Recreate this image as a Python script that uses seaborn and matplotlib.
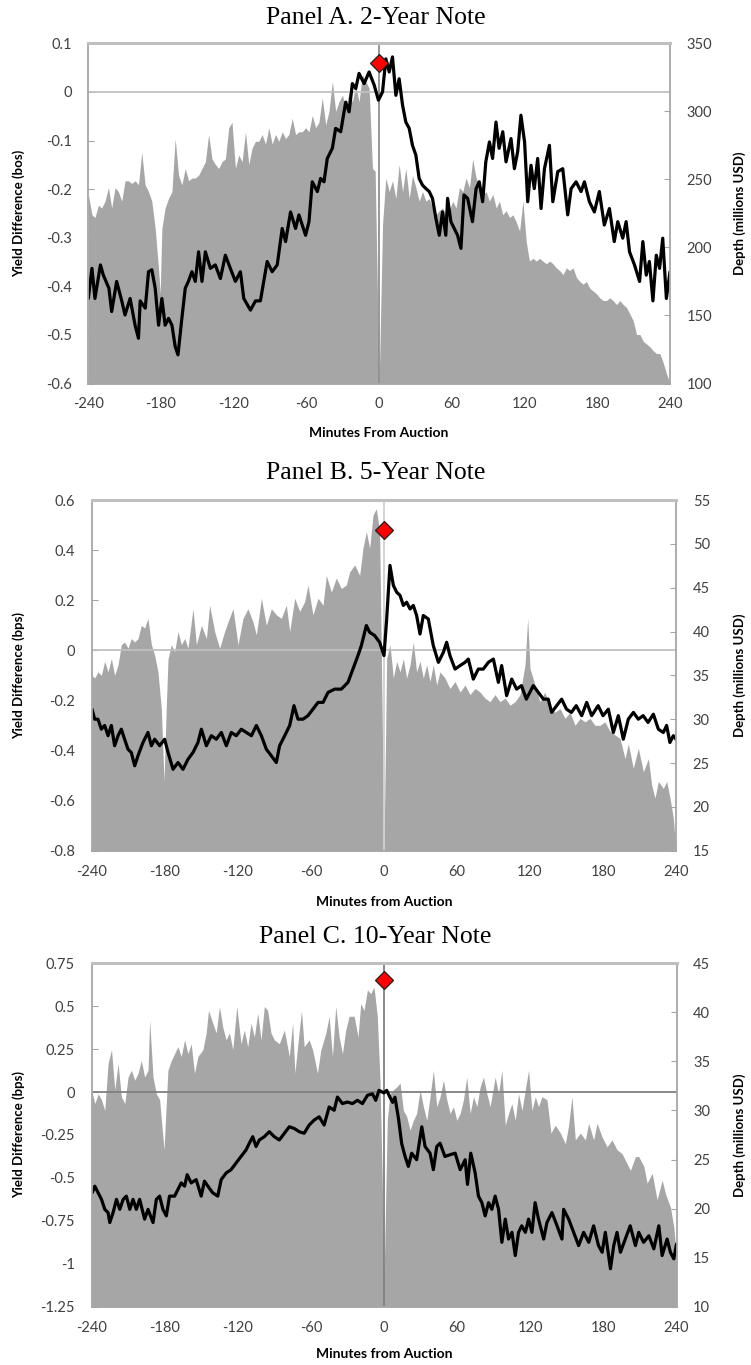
import matplotlib
matplotlib.use("Agg")
import matplotlib.pyplot as plt
import pandas as pd
import seaborn as sns

# ---------------- data ----------------
# Panel A: 2-Year Note  (minute, yield difference in bps)
yield_2y = [(-240,-0.425),(-237,-0.363),(-234.5,-0.425),(-230,-0.356),(-227.6,-0.377),(-223,-0.404),(-220.7,-0.452),(-216.6,-0.39),(-212.4,-0.43),(-209.7,-0.459),(-205.5,-0.425),(-201.4,-0.48),(-198.6,-0.507),(-197.2,-0.43),(-193,-0.445),(-190.3,-0.37),(-187.6,-0.366),(-184.8,-0.404),(-182,-0.48),(-179.3,-0.425),(-176.6,-0.48),(-173.8,-0.466),(-171,-0.48),(-168.3,-0.524),(-166,-0.541),(-162.8,-0.466),(-160,-0.404),(-157.4,-0.39),(-154.5,-0.37),(-151.7,-0.39),(-149,-0.329),(-146.2,-0.39),(-143.4,-0.329),(-139.3,-0.363),(-135.2,-0.356),(-131,-0.384),(-126.9,-0.336),(-122.8,-0.363),(-118.6,-0.39),(-114.5,-0.37),(-111.7,-0.425),(-106.2,-0.449),(-102,-0.43),(-98,-0.43),(-95.2,-0.39),(-92.4,-0.349),(-88.3,-0.37),(-84.1,-0.356),(-80,-0.281),(-77.2,-0.308),(-73.1,-0.247),(-69,-0.281),(-66.2,-0.253),(-60.7,-0.295),(-57.9,-0.267),(-55.2,-0.185),(-51,-0.205),(-48.3,-0.178),(-45.5,-0.185),(-42.8,-0.137),(-38.6,-0.116),(-35.9,-0.075),(-31.7,-0.082),(-27.6,-0.021),(-24.8,-0.041),(-22.1,0.017),(-19.3,0.007),(-16.6,0.038),(-12.4,0.017),(-8.3,0.041),(-4.1,0.014),(-0.6,-0.017),(2.8,0.0),(5.5,0.068),(8.3,0.041),(11,0.072),(13.8,-0.007),(16.5,0.027),(19.3,-0.027),(22,-0.062),(24.8,-0.075),(27.5,-0.11),(30.3,-0.13),(33,-0.178),(35.8,-0.192),(38.6,-0.199),(41.3,-0.205),(44,-0.219),(46.8,-0.26),(49.6,-0.295),(52.3,-0.247),(55,-0.295),(56.5,-0.219),(59.2,-0.267),(62,-0.281),(64.7,-0.295),(67.5,-0.322),(70,-0.212),(73,-0.219),(77,-0.267),(80,-0.199),(82.6,-0.185),(85.4,-0.226),(88,-0.144),(91,-0.103),(93.6,-0.137),(96.4,-0.062),(99,-0.116),(102,-0.082),(104.7,-0.144),(108.8,-0.096),(111.6,-0.158),(114.3,-0.123),(117,-0.048),(120,-0.103),(122.6,-0.226),(125.3,-0.151),(128,-0.199),(130.8,-0.137),(133.6,-0.24),(136.4,-0.158),(140.5,-0.11),(143.3,-0.226),(147.4,-0.164),(151.5,-0.158),(155.6,-0.253),(158.4,-0.199),(162.5,-0.185),(166.6,-0.205),(169.4,-0.185),(173.5,-0.226),(177.6,-0.247),(181.7,-0.205),(185.8,-0.274),(190,-0.24),(194,-0.308),(196.9,-0.267),(201,-0.301),(203.8,-0.267),(206.6,-0.329),(210.7,-0.356),(214.9,-0.39),(217.6,-0.308),(220.4,-0.377),(223,-0.349),(225.9,-0.43),(228.7,-0.336),(231.4,-0.363),(234,-0.301),(237,-0.425),(240,-0.37)]

# Panel A depth (minute, millions USD)
depth_2y = [(-240,239),(-237,224),(-234.5,222),(-231.7,231),(-229,229),(-226.2,234),(-223.4,244),(-220.7,229),(-217.9,244),(-215.2,241),(-212.4,234),(-209.7,249),(-206.9,249),(-204.1,247),(-201.4,249),(-198.6,246),(-195.9,270),(-193.1,246),(-190.3,241),(-187.6,234),(-184.8,214),(-182.1,185),(-180.7,166),(-179.3,214),(-176.6,229),(-173.8,236),(-171,241),(-168.3,280),(-165.5,253),(-162.8,246),(-160,258),(-157.2,249),(-154.5,251),(-151.7,251),(-149,253),(-146.2,258),(-143.4,263),(-140.7,283),(-137.9,265),(-135.2,261),(-132.4,258),(-129.7,263),(-126.9,265),(-124.1,288),(-121.4,292),(-118.6,258),(-115.9,268),(-113.1,263),(-110.3,285),(-107.6,261),(-104.8,273),(-102.1,278),(-99.3,278),(-96.6,283),(-93.8,276),(-91,288),(-88.3,276),(-85.5,283),(-82.8,278),(-80,285),(-77.2,280),(-74.5,283),(-71.7,295),(-69,283),(-66.2,285),(-63.4,285),(-60.7,288),(-57.9,285),(-55.2,297),(-52.4,288),(-49.7,292),(-46.9,310),(-44.1,290),(-41.4,300),(-38.6,322),(-35.9,300),(-33.1,307),(-30.3,312),(-27.6,302),(-24.8,314),(-22.1,307),(-19.3,319),(-16.6,307),(-13.8,327),(-11,322),(-8.3,317),(-5.5,258),(-3.3,256),(0,100),(2.8,217),(5.5,251),(8.3,241),(11,249),(13.8,236),(16.5,261),(19.3,241),(22,258),(24.8,236),(27.5,253),(30.3,244),(33,234),(35.8,241),(38.6,234),(41.3,236),(44,229),(46.8,224),(49.6,227),(52.3,229),(55,224),(57.9,227),(60.7,234),(63.4,229),(66.2,244),(69,241),(71.7,251),(74.5,244),(77.2,265),(80,251),(82.8,246),(85.5,239),(88.3,241),(91,234),(93.8,239),(96.6,229),(99.3,234),(102,224),(104.8,227),(107.6,222),(110.3,224),(113,219),(115.9,212),(118.6,234),(121.4,204),(124,190),(126.9,192),(129.7,190),(132.4,192),(135,190),(138,188),(140.7,190),(143.4,188),(146.2,185),(149,183),(151.7,180),(154.5,185),(157.2,183),(160,185),(162.8,178),(165.5,175),(168.3,173),(171,175),(173.8,170),(176.5,168),(179.3,166),(182,163),(184.8,161),(187.6,161),(190.3,163),(193,161),(195.9,158),(198.6,161),(201.4,158),(204,156),(207,151),(209.7,146),(212.4,136),(215.2,136),(218,131),(220.7,129),(223.4,127),(226.2,124),(229,122),(231.7,122),(234.5,115),(237.2,107),(240,100)]

# Panel B: 5-Year Note
yield_5y = [(-240,-0.235),(-237.8,-0.275),(-235.1,-0.275),(-232.3,-0.315),(-229.6,-0.30),(-226.8,-0.341),(-224.1,-0.30),(-221.4,-0.381),(-218.6,-0.341),(-215.9,-0.315),(-213.2,-0.355),(-210.4,-0.395),(-207.7,-0.408),(-204.9,-0.461),(-202.2,-0.421),(-198.1,-0.368),(-194,-0.328),(-191.2,-0.381),(-188.5,-0.355),(-184.4,-0.381),(-180.3,-0.355),(-177.5,-0.408),(-173.4,-0.475),(-169.3,-0.448),(-165.2,-0.475),(-161.1,-0.435),(-157,-0.408),(-152.9,-0.368),(-150.1,-0.315),(-146,-0.381),(-141.9,-0.341),(-137.8,-0.355),(-133.7,-0.328),(-129.6,-0.381),(-125.5,-0.328),(-121.4,-0.341),(-117.3,-0.315),(-113.2,-0.328),(-109,-0.341),(-104.9,-0.30),(-100.8,-0.341),(-96.7,-0.395),(-92.6,-0.421),(-88.5,-0.448),(-85.8,-0.381),(-81.6,-0.341),(-77.5,-0.30),(-74,-0.221),(-70.7,-0.275),(-66.6,-0.275),(-62.5,-0.261),(-58.4,-0.235),(-54.2,-0.208),(-50.1,-0.208),(-46,-0.168),(-40.5,-0.155),(-35.1,-0.155),(-29.6,-0.128),(-25.5,-0.075),(-21.4,-0.021),(-18.6,0.019),(-14.5,0.099),(-11.8,0.072),(-7.7,0.059),(-3.6,0.032),(0,-0.021),(2.2,0.125),(4.9,0.339),(7.7,0.259),(10.4,0.232),(13.2,0.219),(15.9,0.179),(18.6,0.192),(21.4,0.165),(24.1,0.179),(26.8,0.139),(29.6,0.065),(32.3,0.139),(36.4,0.125),(40.5,0.019),(44.7,-0.048),(48.8,-0.008),(51.5,0.032),(54.2,-0.021),(58.4,-0.075),(62.5,-0.061),(66.6,-0.048),(69.3,-0.035),(73.4,-0.115),(77.5,-0.075),(81.6,-0.075),(85.8,-0.048),(89.9,-0.035),(94,-0.128),(96.7,-0.061),(100.8,-0.181),(105,-0.115),(109,-0.155),(113,-0.141),(117,-0.195),(122.7,-0.141),(126.8,-0.168),(131,-0.195),(135,-0.195),(137.8,-0.248),(141.9,-0.221),(146,-0.195),(150,-0.235),(154,-0.248),(158,-0.221),(162.5,-0.261),(166.6,-0.208),(170.7,-0.261),(176,-0.221),(180,-0.261),(184.4,-0.235),(188.5,-0.328),(192.6,-0.261),(196.7,-0.355),(200.8,-0.275),(205,-0.248),(209,-0.275),(213,-0.261),(217,-0.288),(221.4,-0.255),(225.5,-0.315),(229.6,-0.328),(232.3,-0.30),(235,-0.368),(237.8,-0.341),(240,-0.355)]

depth_5y = [(-240,35.0),(-237.8,34.7),(-235.1,35.4),(-232.3,35.0),(-229.6,36.6),(-226.8,35.4),(-224.1,36.9),(-221.4,35.0),(-218.6,36.2),(-215.9,38.5),(-213.2,38.8),(-210.4,38.1),(-207.7,39.2),(-204.9,38.8),(-202.2,39.2),(-199.5,40.7),(-196.7,40.4),(-194,41.5),(-191.2,38.5),(-188.5,37.3),(-185.8,35.4),(-183,31.2),(-180.8,22.9),(-178.9,31.6),(-177.5,36.9),(-174.8,38.5),(-172.1,37.7),(-169.3,40.0),(-166.6,38.5),(-163.8,39.2),(-161.1,38.1),(-157,42.6),(-154.2,38.5),(-150.1,40.7),(-146,39.2),(-143.3,43.0),(-139.2,40.0),(-135.1,38.1),(-131,40.0),(-128.2,41.1),(-124.1,42.6),(-120,38.5),(-115.9,41.5),(-111.8,42.6),(-107.7,41.1),(-104.9,39.6),(-100.8,43.8),(-96.7,40.7),(-92.6,42.6),(-88.5,41.9),(-84.4,41.5),(-80.3,43.0),(-77.5,40.0),(-73.4,43.8),(-69.3,42.3),(-65.2,43.4),(-62.5,45.3),(-58.4,41.9),(-54.2,43.8),(-50.1,43.0),(-47.4,46.4),(-43.3,44.5),(-39.2,46.1),(-35.1,44.9),(-31,45.3),(-28.2,46.8),(-24.1,47.6),(-20,46.4),(-17.3,49.5),(-14.5,51.4),(-11.8,49.5),(-9,53.3),(-6.3,54.0),(-3.6,51.4),(-1.6,31.6),(0,15.1),(2.2,36.9),(4.9,38.5),(7.7,34.7),(10.4,36.6),(13.2,35.4),(15.9,36.9),(18.6,34.7),(21.4,36.2),(24.1,38.8),(26.8,35.4),(29.6,36.6),(32.3,34.7),(35.1,36.2),(37.8,34.3),(40.5,36.2),(43.3,33.9),(46,35.4),(50.1,34.7),(54.2,33.5),(58.4,34.3),(62.5,33.1),(66.6,33.9),(70.7,32.8),(74.8,33.5),(78.9,33.1),(83,32.4),(87.1,32.0),(91.2,32.8),(95.3,32.0),(99.5,32.4),(103.6,31.6),(107.7,32.0),(111.8,32.8),(115.9,36.2),(118.1,41.5),(120,35.8),(124.1,33.9),(128.2,32.0),(132.3,33.1),(136.4,31.2),(140.5,30.8),(144.7,31.2),(148.8,30.1),(152.9,30.8),(157,29.3),(161.1,30.1),(165.2,29.7),(169.3,30.1),(173.4,29.3),(177.5,29.3),(181.6,29.7),(185.8,28.6),(189.9,28.2),(194,27.8),(198.1,25.5),(200.8,27.2),(204.9,24.4),(209,26.7),(213.2,24.0),(217.3,25.5),(220,22.5),(222.7,21.0),(225.5,22.9),(229.6,22.1),(232.3,22.9),(235.1,21.0),(237.8,18.7),(240,15.1)]

# Panel C: 10-Year Note
yield_10y = [(-239.5,-0.587),(-237.3,-0.548),(-234.5,-0.587),(-231.8,-0.625),(-229.1,-0.683),(-226.4,-0.702),(-225,-0.76),(-222.3,-0.702),(-219.5,-0.625),(-216.8,-0.683),(-214,-0.625),(-211.4,-0.606),(-208.6,-0.683),(-205.9,-0.625),(-203.2,-0.683),(-200.5,-0.625),(-196.4,-0.74),(-193.6,-0.683),(-189.5,-0.76),(-186.8,-0.625),(-184.1,-0.606),(-181.4,-0.683),(-178.6,-0.721),(-176,-0.606),(-171.8,-0.606),(-169.1,-0.567),(-166.4,-0.529),(-163.6,-0.548),(-161.5,-0.481),(-158.2,-0.529),(-154.1,-0.51),(-150,-0.606),(-147.3,-0.519),(-144.5,-0.548),(-140.5,-0.587),(-136.4,-0.606),(-133.6,-0.51),(-129.5,-0.471),(-125.5,-0.452),(-121.4,-0.413),(-117.3,-0.375),(-113.2,-0.337),(-110.5,-0.298),(-107.7,-0.26),(-105,-0.317),(-102.3,-0.279),(-98.2,-0.26),(-94.1,-0.231),(-90,-0.26),(-85.9,-0.279),(-81.8,-0.24),(-77.7,-0.202),(-73.6,-0.212),(-69.5,-0.231),(-65.5,-0.24),(-61.4,-0.192),(-57.3,-0.163),(-53.2,-0.144),(-49.1,-0.192),(-45,-0.087),(-40.9,-0.106),(-38.2,-0.029),(-34.1,-0.067),(-30,-0.058),(-25.9,-0.067),(-21.8,-0.048),(-17.7,-0.067),(-13.6,-0.019),(-9.5,-0.01),(-6.8,-0.048),(-4.1,0.01),(0,-0.005),(2.2,0.01),(4.9,-0.03),(7.1,-0.06),(9,-0.03),(11.8,-0.15),(14.5,-0.30),(17.3,-0.375),(20,-0.433),(22.7,-0.356),(26.8,-0.394),(31,-0.202),(33.7,-0.317),(37.8,-0.356),(40.5,-0.452),(43.3,-0.317),(46,-0.298),(50,-0.375),(54.2,-0.365),(58.4,-0.356),(62.5,-0.452),(66.6,-0.394),(68.5,-0.538),(71.2,-0.356),(74.8,-0.471),(77.5,-0.606),(80.3,-0.644),(83,-0.721),(85.8,-0.644),(88.5,-0.683),(91.2,-0.606),(94,-0.683),(96.7,-0.875),(99.5,-0.74),(102.2,-0.856),(105,-0.817),(107.7,-0.952),(110.4,-0.817),(113,-0.779),(116,-0.817),(118.6,-0.74),(121.4,-0.817),(124,-0.644),(126.8,-0.74),(131,-0.856),(133.7,-0.76),(137.8,-0.702),(142,-0.779),(146,-0.856),(147.4,-0.683),(151.5,-0.74),(155.6,-0.817),(159.7,-0.894),(163.8,-0.817),(168,-0.875),(172,-0.779),(176,-0.894),(179,-0.933),(181.6,-0.817),(185.8,-1.029),(188.5,-0.894),(191.2,-0.817),(194,-0.933),(198,-0.856),(202,-0.779),(206.3,-0.894),(209,-0.817),(213,-0.875),(217.3,-0.837),(221.4,-0.913),(225.5,-0.779),(228.2,-0.952),(232.3,-0.856),(235,-0.933),(237.8,-0.971),(240,-0.885)]

depth_10y = [(-240,32.1),(-237.3,30.7),(-234.5,31.7),(-231.8,31.1),(-229.1,30.0),(-226.4,34.8),(-223.6,36.2),(-220.9,32.1),(-218.2,34.8),(-215.5,31.4),(-212.7,30.7),(-210,33.4),(-207.3,34.1),(-204.5,33.1),(-201.8,33.8),(-199.1,35.1),(-196.4,33.4),(-193.6,34.1),(-192.3,39.2),(-189.5,33.4),(-186.8,31.7),(-184.1,31.1),(-180.5,26.0),(-177.3,34.1),(-174.5,35.1),(-171.8,35.8),(-169.1,36.5),(-166.4,35.5),(-163.6,37.2),(-160.9,35.8),(-158.2,36.8),(-155.5,33.8),(-152.7,35.5),(-148.6,36.2),(-145.9,37.9),(-144,40.2),(-140.5,38.9),(-137.7,37.9),(-135,40.6),(-132.3,38.5),(-129.6,37.2),(-126.8,37.9),(-124.1,36.2),(-120.8,40.6),(-117.3,36.8),(-114.6,38.2),(-111.8,36.5),(-109.1,38.9),(-106.4,37.5),(-103.6,39.9),(-100.9,37.2),(-98.2,40.6),(-95.5,40.2),(-92.7,37.9),(-90,37.2),(-85.9,36.8),(-81.8,38.2),(-77.7,35.5),(-75,38.9),(-73.1,33.8),(-70.9,36.5),(-67.7,40.2),(-65.5,36.5),(-61.4,37.2),(-58.6,36.2),(-54.6,33.8),(-51.8,36.2),(-47.7,37.9),(-45,39.6),(-42.3,35.5),(-39.6,40.6),(-36.8,37.5),(-34.1,35.8),(-31.4,38.2),(-28.6,39.6),(-24.5,39.6),(-21.3,37.5),(-19.1,40.9),(-16.4,40.2),(-13.6,42.3),(-10.9,41.9),(-8.2,42.6),(-5.5,39.6),(-3.3,33.1),(-1.4,22.9),(0,12.7),(2.7,29.0),(4.9,31.7),(7.7,32.1),(10.4,32.4),(13.2,32.8),(15.9,30.0),(18.6,29.4),(21.4,28.0),(24.1,29.0),(26.8,29.7),(29.6,32.1),(32.3,30.4),(35.1,29.0),(37.8,31.4),(40.5,34.1),(43.3,30.4),(46,31.4),(48.8,33.1),(51.5,31.1),(54.2,29.7),(57,30.4),(59.7,29.0),(62.5,29.7),(65.2,31.1),(67.9,33.4),(70.7,29.7),(73.4,31.4),(76.2,30.4),(78.9,32.4),(81.6,33.4),(84.4,31.7),(87.1,30.4),(91.2,33.4),(94,31.7),(96.7,34.1),(99.5,28.5),(102.2,29.7),(104.9,30.7),(107.7,29.0),(110.4,31.7),(113.2,30.0),(115.9,32.1),(118.6,34.1),(121.4,30.0),(124.1,31.4),(126.8,30.4),(129.6,31.4),(133.7,31.1),(137,27.7),(140.5,28.5),(144.7,27.7),(148.8,26.6),(151.5,28.5),(154.2,31.4),(157,27.0),(161.1,27.7),(165.2,27.0),(167.9,28.7),(172,27.0),(174.8,28.7),(178.9,27.3),(183,26.3),(187.1,27.0),(191.2,26.0),(195.3,25.6),(198.1,24.9),(202.2,23.9),(206.3,25.3),(209,25.3),(213.2,24.3),(215.9,22.6),(220,23.6),(224.1,20.9),(228.2,22.9),(231,21.5),(235.1,20.1),(237.8,18.1),(240,15.1)]

# auction marker (yield level of the red diamond at minute 0)
auction_y = [0.06, 0.48, 0.655]

titles = ["Panel A. 2-Year Note", "Panel B. 5-Year Note", "Panel C. 10-Year Note"]
xlabels = ["Minutes From Auction", "Minutes from Auction", "Minutes from Auction"]
ylabels = ["Yield Difference (bos)", "Yield Difference (bps)", "Yield Difference (bps)"]
rlabel = "Depth (millions USD)"
x_ticks = [-240, -180, -120, -60, 0, 60, 120, 180, 240]
y_ticks = [[0.1, 0, -0.1, -0.2, -0.3, -0.4, -0.5, -0.6],
           [0.6, 0.4, 0.2, 0, -0.2, -0.4, -0.6, -0.8],
           [0.75, 0.5, 0.25, 0, -0.25, -0.5, -0.75, -1, -1.25]]
d_ticks = [[100, 150, 200, 250, 300, 350],
           [15, 20, 25, 30, 35, 40, 45, 50, 55],
           [10, 15, 20, 25, 30, 35, 40, 45]]

# ---------------- styling / layout ----------------
sns.set_theme(style="white")
plt.rcParams['font.family'] = ['Lato', 'DejaVu Sans']

W, H = 751, 1365
fig = plt.figure(figsize=(W / 100, H / 100), dpi=100)
fig.patch.set_facecolor("white")

# pixel boxes (left, right, top, bottom) of plot areas
boxes = [(88.3, 670.0, 43.3, 383.5),
         (92.0, 676.0, 500.0, 850.7),
         (91.5, 676.5, 963.3, 1306.7)]
title_y = [18, 473, 937]
xlabel_y = [433, 902, 1354]
zero_col = ["#c0c0c0", "#c0c0c0", "#808080"]
vline_col = ["#909090", "#d0d0d0", "#808080"]

FILL = "#a6a6a6"
SPINE = "#a6a6a6"
TICKCOL = "#404040"

series = [(yield_2y, depth_2y), (yield_5y, depth_5y), (yield_10y, depth_10y)]

for i, ((yl, dp), box) in enumerate(zip(series, boxes)):
    l, r, t, b = box
    rect = [l / W, 1 - b / H, (r - l) / W, (b - t) / H]
    ax = fig.add_axes(rect)
    ax2 = ax.twinx()
    ax.set_zorder(ax2.get_zorder() + 1)
    ax.patch.set_visible(False)
    ax2.patch.set_facecolor("white")

    dmin, dval = zip(*dp)
    ymin_, yval = zip(*yl)
    dlo, dhi = d_ticks[i][0], d_ticks[i][-1]

    # depth area (right axis)
    ax2.fill_between(dmin, dlo, dval, color=FILL, lw=0)
    ax2.set_ylim(dlo, dhi)
    ax2.set_yticks(d_ticks[i])
    ax2.set_yticklabels([str(v) for v in d_ticks[i]])
    for s in ax2.spines.values():
        s.set_visible(False)

    # reference lines
    ax.axhline(0, color=zero_col[i], lw=1.3, zorder=2)
    ax.axvline(0, color=vline_col[i], lw=1.3, zorder=2)

    # yield difference line (left axis)
    df = pd.DataFrame({"minute": ymin_, "yield": yval})
    sns.lineplot(data=df, x="minute", y="yield", ax=ax, color="black",
                 linewidth=2.3, estimator=None, sort=False, zorder=4)
    ax.plot([0], [auction_y[i]], marker="D", ms=9, mfc="#ff0000",
            mec="#202020", mew=0.9, ls="none", zorder=6, clip_on=False)

    ax.set_xlim(-240, 240)
    yt = y_ticks[i]
    ax.set_ylim(yt[-1], yt[0])
    ax.set_yticks(yt)
    ax.set_yticklabels([f"{round(v, 2):g}" for v in yt])
    ax.set_xticks(x_ticks)
    ax.set_xticklabels([str(v) for v in x_ticks])

    ax.tick_params(axis="x", length=0, pad=10, labelsize=10.5, labelcolor=TICKCOL)
    ax.tick_params(axis="y", direction="in", length=4, width=0.8, color=SPINE,
                   pad=12, labelsize=10.5, labelcolor=TICKCOL)
    ax2.tick_params(axis="y", direction="in", length=4, width=0.8, color=SPINE,
                    pad=12, labelsize=10.5, labelcolor=TICKCOL)

    for name, s in ax.spines.items():
        s.set_visible(True)
        s.set_color(SPINE)
        s.set_linewidth(1.3)
        s.set_zorder(5)
    ax.spines["top"].set_color("#bfbfbf")
    ax.spines["top"].set_linewidth(2.2)

    # axis titles
    hpx = b - t
    wpx = r - l
    ax.set_xlabel(xlabels[i], fontsize=10, fontweight="bold", color="black")
    ax.xaxis.label.set_va("center")
    ax.xaxis.set_label_coords(0.5, -(xlabel_y[i] - b) / hpx)
    ax.set_ylabel(ylabels[i], fontsize=9.5, fontweight="bold", color="black")
    ax.yaxis.label.set_va("center")
    ax.yaxis.set_label_coords((19 - l) / wpx, 0.5)
    ax2.set_ylabel(rlabel, fontsize=9.5, fontweight="bold", color="black",
                   rotation=90)
    ax2.yaxis.label.set_va("center")
    ax2.yaxis.set_label_coords((740 - l) / wpx, 0.5)

    fig.text(0.5, 1 - title_y[i] / H, titles[i], ha="center", va="center",
             family=["Liberation Serif", "DejaVu Serif"], fontsize=18.5,
             color="black")

fig.savefig("out.png", dpi=100, facecolor="white")
